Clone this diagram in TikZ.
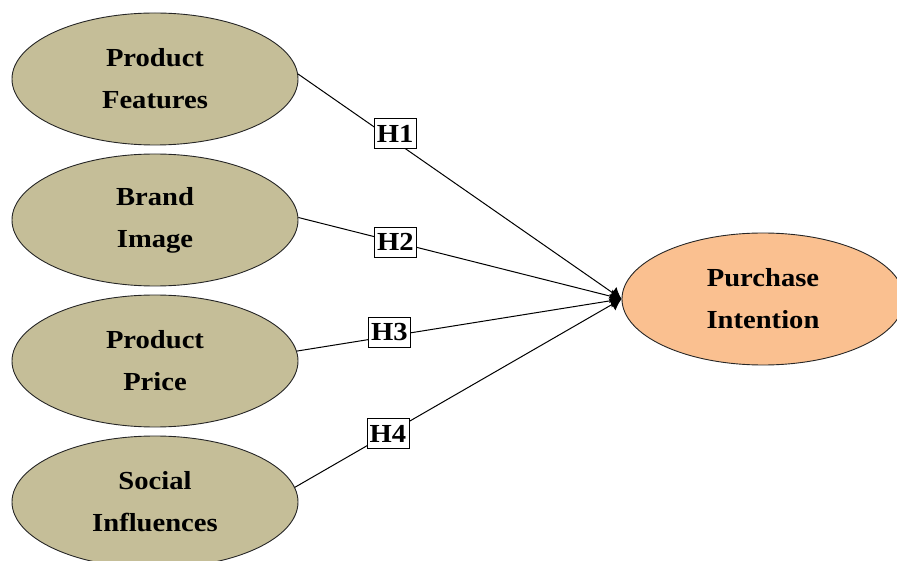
\documentclass[tikz,border=0pt]{standalone}
\usepackage{fontspec}
\setmainfont[FakeStretch=1.1]{Liberation Serif}
\usetikzlibrary{shapes.geometric,arrows.meta}
\definecolor{tanfill}{RGB}{197,190,152}
\definecolor{orangefill}{RGB}{250,192,144}
\tikzset{
  construct/.style={ellipse,draw=black!85,line width=0.9pt,minimum width=286pt,minimum height=132pt,inner sep=0pt,align=center,font=\fontsize{26}{42}\selectfont\bfseries},
  hyp/.style={draw=black,line width=0.8pt,fill=white,minimum width=42pt,minimum height=30pt,inner sep=1pt,font=\fontsize{26}{28}\selectfont\bfseries},
  link/.style={line width=1pt,-{Latex[length=11pt,width=14pt]}}
}
\newcommand{\up}[1]{\raisebox{5pt}{\begin{tabular}{@{}c@{}}#1\end{tabular}}}
\begin{document}
\begin{tikzpicture}[x=1pt,y=-1pt]
\useasboundingbox (0,0) rectangle (897,561);
\node[construct,fill=tanfill] (pf) at (155,79) {Product\\Features};
\node[construct,fill=tanfill] (bi) at (155,220) {Brand\\Image};
\node[construct,fill=tanfill] (pp) at (155,361) {Product\\Price};
\node[construct,fill=tanfill] (si) at (155,502) {Social\\Influences};
\node[construct,fill=orangefill,minimum width=282pt] (pi) at (763,299) {Purchase\\Intention};
\draw[link] (pf.2) -- node[hyp,pos=0.30,yshift=8pt] (h1) {H1} (pi.west);
\draw[link] (bi.1) -- node[hyp,pos=0.30] (h2) {H2} (pi.west);
\draw[link] (pp.4) -- node[hyp,pos=0.285,yshift=4pt] (h3) {H3} (pi.west);
\draw[link] (si.6) -- node[hyp,pos=0.285] (h4) {H4} (pi.west);
\end{tikzpicture}
\end{document}
